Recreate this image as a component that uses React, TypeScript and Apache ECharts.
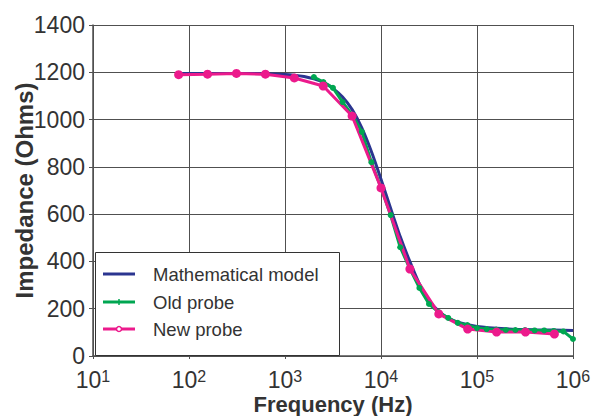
import React, { useEffect, useRef } from "react";
import * as echarts from "echarts";

const modelFreq = [78, 150, 300, 600, 1000, 1250, 1580, 2000, 2510, 3160, 3980, 5010, 6310, 7940, 10000, 12590, 15850, 19950, 25120, 31620, 39810, 50120, 63100, 100000, 200000, 400000, 1000000];
const modelValues = [1195, 1195, 1195, 1194, 1191, 1188, 1182, 1172, 1157, 1132, 1095, 1042, 965, 865, 748, 625, 505, 400, 305, 235, 190, 160, 143, 125, 115, 111, 108];

const oldFreq = [2000, 2510, 3160, 3980, 5010, 6310, 7940, 10000, 12590, 15850, 19950, 25120, 31620, 39810, 50120, 63100, 79430, 100000, 125900, 158500, 199500, 251200, 316200, 398100, 501200, 631000, 794300, 1000000];
const oldValues = [1180, 1159, 1134, 1074, 1020, 948, 820, 712, 596, 460, 370, 288, 220, 186, 161, 140, 131, 118, 114, 112, 110, 110, 110, 108, 108, 106, 104, 72];

const newFreq = [78, 156, 312, 625, 1250, 2500, 5000, 10000, 20000, 40000, 80000, 160000, 320000, 640000];
const newValues = [1190, 1192, 1195, 1192, 1176, 1142, 1015, 711, 368, 178, 114, 101, 101, 93];

const yTicks = { min: 0, max: 1400, interval: 200 };
const xRange = { min: 10, max: 1000000 };

const seriesNames = ["Mathematical model", "Old probe", "New probe"];
const colors = ["#2b3590", "#00a651", "#ec1a8c"];

const pair = (f: number[], v: number[]) => f.map((x, i) => [x, v[i]]);

export default function App() {
  const ref = useRef<HTMLDivElement>(null);
  useEffect(() => {
    if (!ref.current) return;
    const chart = echarts.init(ref.current, null, { renderer: "svg" });
    const txt = "#333";
    const gridColor = "#505050";
    const font = "Liberation Sans, Arial, sans-serif";
    const lx = 95, ly = 252, lw = 244, lh = 103;
    const rows = [274, 302, 329];
    const legendGraphics: any[] = [
      {
        type: "rect",
        shape: { x: lx + 0.5, y: ly + 0.5, width: lw, height: lh },
        style: { fill: "#fff", stroke: "#333", lineWidth: 1 },
        z: 100,
      },
    ];
    seriesNames.forEach((n, i) => {
      legendGraphics.push({
        type: "line",
        shape: { x1: 103, y1: rows[i], x2: 135, y2: rows[i] },
        style: { stroke: colors[i], lineWidth: 3 },
        z: 101,
      });
      if (i === 1) {
        legendGraphics.push({
          type: "line",
          shape: { x1: 119, y1: rows[i] - 3, x2: 119, y2: rows[i] + 3 },
          style: { stroke: colors[i], lineWidth: 1.5 },
          z: 102,
        });
      }
      if (i === 2) {
        legendGraphics.push({
          type: "circle",
          shape: { cx: 119, cy: rows[i], r: 2.5 },
          style: { fill: "#fff", stroke: colors[i], lineWidth: 1.5 },
          z: 102,
        });
      }
      legendGraphics.push({
        type: "text",
        x: 153,
        y: rows[i],
        style: { text: n, fill: txt, font: `18.5px ${font}`, textVerticalAlign: "middle", verticalAlign: "middle" },
        z: 102,
      });
    });
    chart.setOption({
      animation: false,
      backgroundColor: "#fff",
      textStyle: { fontFamily: font },
      grid: { left: 93, right: 28, top: 25, bottom: 60, containLabel: false, outerBoundsMode: "none" },
      xAxis: {
        type: "log",
        logBase: 10,
        min: xRange.min,
        max: xRange.max,
        name: "Frequency (Hz)",
        nameLocation: "middle",
        nameGap: 37,
        nameMoveOverlap: false,
        nameTextStyle: { fontSize: 22, fontWeight: "bold", color: txt, lineHeight: 22 },
        axisLine: { show: true, lineStyle: { color: gridColor, width: 1.5 } },
        axisTick: { show: true, length: 3, lineStyle: { color: gridColor } },
        minorTick: { show: false },
        splitLine: { show: true, lineStyle: { color: gridColor, width: 1 } },
        axisLabel: {
          margin: 12,
          color: txt,
          formatter: (v: number) => `{b|10}{s|${Math.round(Math.log10(v))}}`,
          rich: {
            b: { fontSize: 23, color: txt, lineHeight: 23, verticalAlign: "bottom" },
            s: { fontSize: 16, color: txt, lineHeight: 16, verticalAlign: "top" },
          },
        },
      },
      yAxis: {
        type: "value",
        min: yTicks.min,
        max: yTicks.max,
        interval: yTicks.interval,
        name: "Impedance (Ohms)",
        nameLocation: "middle",
        nameGap: 57,
        nameMoveOverlap: false,
        nameTextStyle: { fontSize: 24, fontWeight: "bold", color: txt },
        axisLine: { show: true, lineStyle: { color: gridColor, width: 1.5 } },
        axisTick: { show: true, length: 4, lineStyle: { color: gridColor } },
        splitLine: { show: true, lineStyle: { color: gridColor, width: 1 } },
        axisLabel: { fontSize: 23, lineHeight: 16, color: txt, margin: 8, formatter: (v: number) => String(v) },
      },
      graphic: legendGraphics,
      series: [
        {
          name: seriesNames[0],
          type: "line",
          data: pair(modelFreq, modelValues),
          smooth: 0.2,
          symbol: "none",
          lineStyle: { color: colors[0], width: 3 },
          itemStyle: { color: colors[0] },
        },
        {
          name: seriesNames[1],
          type: "line",
          data: pair(oldFreq, oldValues),
          symbol: "circle",
          symbolSize: 6,
          lineStyle: { color: colors[1], width: 3 },
          itemStyle: { color: colors[1] },
        },
        {
          name: seriesNames[2],
          type: "line",
          data: pair(newFreq, newValues),
          symbol: "circle",
          symbolSize: 9,
          lineStyle: { color: colors[2], width: 3 },
          itemStyle: { color: colors[2] },
        },
      ],
    });
    return () => chart.dispose();
  }, []);
  return <div ref={ref} style={{ width: 601, height: 416, position: "absolute", left: 0, top: 0 }} />;
}
